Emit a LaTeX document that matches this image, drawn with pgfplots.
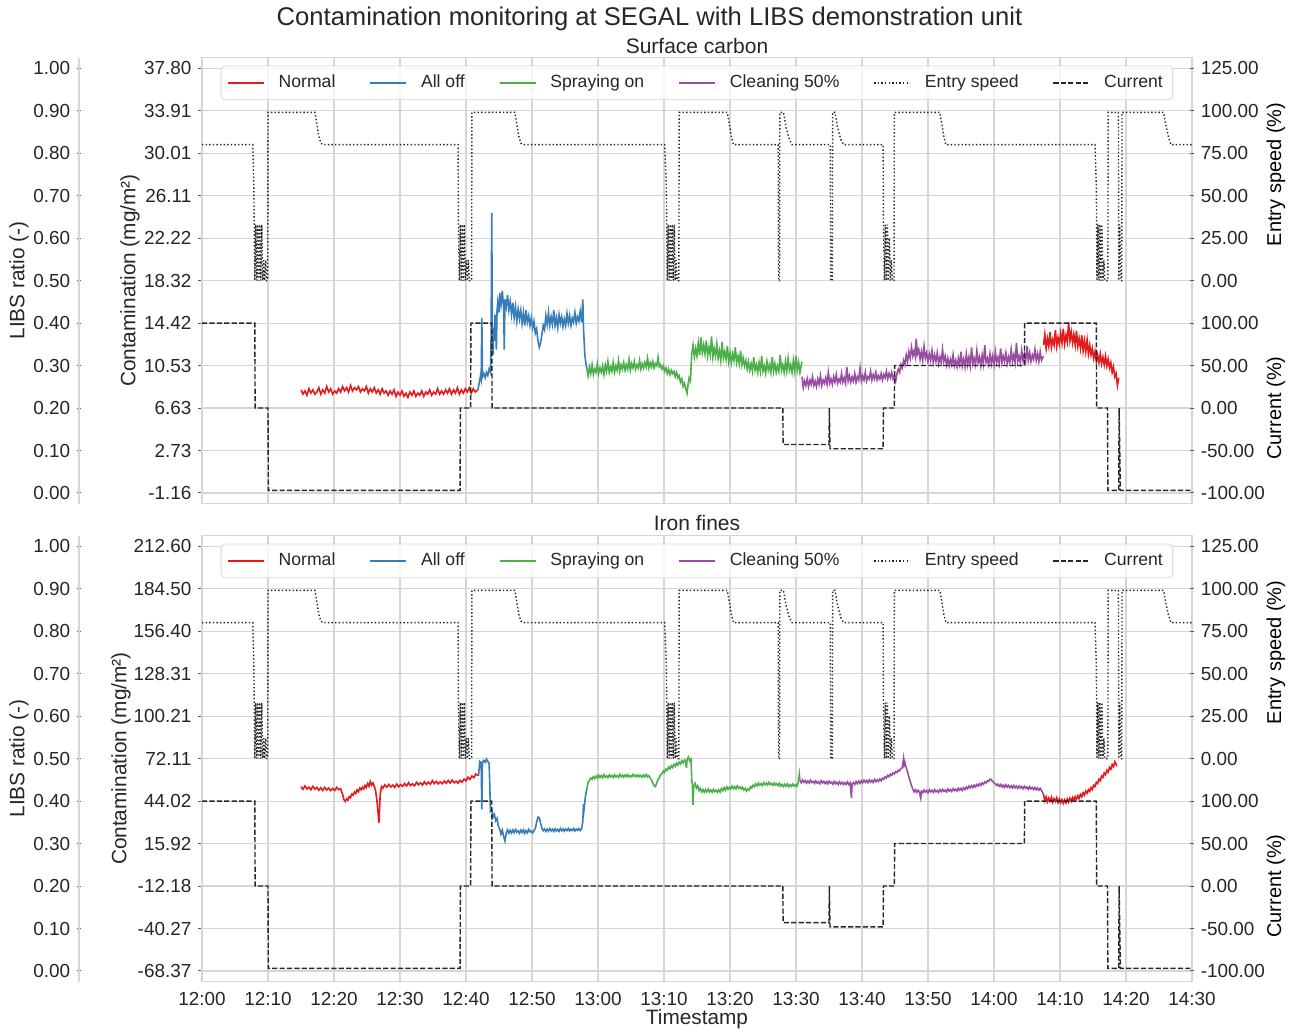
\documentclass[border=0pt]{standalone}
\usepackage{fontspec}
\setmainfont{Liberation Sans}
\usepackage{pgfplots}
\usepackage{pgfplotstable}
\pgfplotsset{compat=1.18}

\definecolor{cnormal}{HTML}{E41A1C}
\definecolor{calloff}{HTML}{377EB8}
\definecolor{cspray}{HTML}{4DAF4A}
\definecolor{cclean}{HTML}{984EA3}
\definecolor{gridc}{HTML}{D6D6D6}
\definecolor{txt}{HTML}{262626}

% entry speed (%) and current (%) against minutes after 12:00
\pgfplotstableread{
t s
0 80
7.7 80
7.85 56
8.0 0
8.15 33
8.3 0
8.45 33
8.6 0
8.75 33
8.9 0
9.05 33
9.2 0
9.35 12
9.5 0
9.65 12
9.8 0
9.95 0
10.0 99
17.1 99
17.4 92
17.7 85
18.0 81
18.3 80
38.8 80
38.85 33
39.0 0
39.15 33
39.3 0
39.45 33
39.6 0
39.75 33
39.9 0
40.05 12
40.2 0
40.35 12
40.5 0
40.85 0
40.9 99
47.4 99
47.7 92
48.0 85
48.3 81
48.6 80
70.1 80
70.35 56
70.5 0
70.65 33
70.8 0
70.95 33
71.1 0
71.25 33
71.4 0
71.55 33
71.7 0
71.85 12
72.0 0
72.25 0
72.3 99
79.6 99
79.9 92
80.2 85
80.5 80
87.3 80
87.35 0
87.5 0
87.55 99
88.1 99
88.5 90
89.0 83
89.4 80
95.2 80
95.25 0
95.5 0
95.55 99
95.9 99
96.3 90
96.8 83
97.2 80
103.2 80
103.25 33
103.4 0
103.55 33
103.7 0
103.85 33
104.0 0
104.15 25
104.3 0
104.45 12
104.6 0
104.85 0
104.9 99
111.8 99
112.1 92
112.4 85
112.7 80
135.3 80
135.5 56
135.6 0
135.75 33
135.9 0
136.05 33
136.2 0
136.35 33
136.5 0
136.65 12
136.8 0
137.25 0
137.3 99
138.85 99
138.9 0
139.05 33
139.2 0
139.35 0
139.4 99
145.7 99
146.0 92
146.4 85
146.8 80
150 80
}\speed

\pgfplotstableread{
t c
0 100
8.0 100
8.05 0
10.0 0
10.05 -97
39.1 -97
39.15 0
40.7 0
40.75 100
43.9 100
43.95 0
88.0 0
88.05 -43
95.0 -43
95.05 0
95.15 -48
103.2 -48
103.25 0
104.9 0
104.95 50
124.6 50
124.65 100
135.5 100
135.55 0
137.2 0
137.25 -97
138.9 -97
138.95 0
139.15 -97
150 -97
}\current

\pgfplotsset{
  panel/.style={scale only axis, width=495pt, height=223pt, xmin=0, xmax=150,
    anchor=south west, tick align=outside, major tick length=1.8pt,
    tick style={draw=txt!75, line width=0.5pt},
    ticklabel style={font=\fontsize{9.45}{11}\selectfont, text=txt},
    label style={font=\fontsize{10.4}{12}\selectfont, text=txt}},
  main/.style={panel, xtick={0,10,...,150}, xtick style={draw=none},
    ytick pos=left, grid=major, grid style={gridc, line width=0.55pt},
    axis line style={gridc, line width=0.6pt},
    legend style={at={(0.5,0.982)}, anchor=north, legend columns=6,
      draw=gridc, rounded corners=2pt, fill=white, fill opacity=0.8,
      text opacity=1, text=txt, font=\fontsize{8.8}{10}\selectfont,
      inner xsep=3pt, inner ysep=2.5pt,
      /tikz/every odd column/.append style={column sep=5pt},
      /tikz/every even column/.append style={column sep=15pt}},
    legend image code/.code={\draw[#1] (0pt,0pt) -- (18pt,0pt);}},
  twin/.style={panel, hide x axis, axis y line=right,
    y axis line style={draw=none}},
  speedax/.style={twin, ymin=-131.25, ymax=131.25, ytick={0,25,...,125},
    yticklabels={0.00,25.00,50.00,75.00,100.00,125.00},
    ylabel={Entry speed (\%)},
    ylabel style={at={(axis description cs:1.0848,0.738)}, anchor=center}},
  currax/.style={twin, ymin=-112.5, ymax=412.5, ytick={-100,-50,...,100},
    yticklabels={-100.00,-50.00,0.00,50.00,100.00},
    ylabel={Current (\%)},
    ylabel style={at={(axis description cs:1.0848,0.214)}, anchor=center}},
  libsax/.style={panel, width=1pt, hide x axis, axis y line=left,
    y axis line style={draw=gridc, line width=0.6pt, -},
    ymin=-0.025, ymax=1.025, ytick={0,0.1,...,1.0},
    yticklabels={0.00,0.10,0.20,0.30,0.40,0.50,0.60,0.70,0.80,0.90,1.00},
    ylabel={LIBS ratio (-)},
    ylabel style={at={(axis description cs:-30,0.5)}, anchor=center}},
  trace/.style={line width=0.8pt},
  speedline/.style={black!85, line width=0.7pt, dash pattern=on 0.7pt off 1.1pt},
  currline/.style={black!85, line width=0.7pt, dash pattern=on 2.6pt off 1.1pt},
}

\begin{document}
\begin{tikzpicture}
\path (0,0) rectangle (647.5pt,514pt);
\node[font=\fontsize{12.8}{15}\selectfont, text=txt] at (324.75pt,505pt)
  {Contamination monitoring at SEGAL with LIBS demonstration unit};
\node[font=\fontsize{10.5}{12}\selectfont, text=txt] at (348.5pt,491.5pt) {Surface carbon};
\node[font=\fontsize{10.5}{12}\selectfont, text=txt] at (348.5pt,253pt) {Iron fines};

% ---------------- top panel: surface carbon ----------------
\begin{axis}[libsax, at={(39.5pt,262.5pt)}]
\end{axis}

\begin{axis}[main, at={(101pt,262.5pt)}, xticklabels={},
  ymin=-2.134, ymax=38.774,
  ytick={-1.16,2.736,6.632,10.528,14.424,18.32,22.216,26.112,30.008,33.904,37.80},
  yticklabels={-1.16,2.73,6.63,10.53,14.42,18.32,22.22,26.11,30.01,33.91,37.80},
  ylabel={Contamination (mg/m²)},
  ylabel style={at={(axis description cs:-0.0727,0.5)}, anchor=center}]
\addplot[trace, cnormal] coordinates {
(15.0,8.3)(15.3,7.9)(15.6,8.2)(15.9,7.8)(16.2,8.4)(16.5,8.0)(16.8,8.3)(17.1,7.9)(17.4,8.1)(17.7,8.5)
(18.0,7.9)(18.3,8.3)(18.6,8.0)(18.9,8.6)(19.2,8.1)(19.5,8.4)(19.8,7.9)(20.1,8.2)(20.4,8.0)(20.7,8.4)
(21.0,8.1)(21.3,8.6)(21.6,8.2)(21.9,8.5)(22.2,8.1)(22.5,8.7)(22.8,8.2)(23.1,8.5)(23.4,8.3)(23.7,8.6)
(24.0,8.1)(24.3,8.4)(24.6,8.2)(24.9,8.6)(25.2,8.0)(25.5,8.4)(25.8,8.1)(26.1,8.5)(26.4,8.0)(26.7,8.3)
(27.0,7.9)(27.3,8.4)(27.6,8.0)(27.9,8.2)(28.2,7.8)(28.5,8.2)(28.8,7.9)(29.1,8.3)(29.4,7.7)(29.7,8.1)
(30.0,7.8)(30.3,8.2)(30.6,7.7)(30.9,8.0)(31.2,7.6)(31.5,8.1)(31.8,7.8)(32.1,8.2)(32.4,7.7)(32.7,8.0)
(33.0,7.8)(33.3,8.2)(33.6,7.7)(33.9,8.1)(34.2,7.9)(34.5,8.3)(34.8,7.8)(35.1,8.1)(35.4,7.9)(35.7,8.4)
(36.0,7.9)(36.3,8.2)(36.6,7.9)(36.9,8.3)(37.2,8.0)(37.5,8.4)(37.8,7.9)(38.1,8.3)(38.4,8.0)(38.7,8.5)
(39.0,7.9)(39.3,8.3)(39.6,8.0)(39.9,8.4)(40.2,8.1)(40.5,8.5)(40.8,8.0)(41.1,8.4)(41.4,8.1)(41.8,8.3)
};
\addlegendentry{Normal}
\addplot[trace, calloff] coordinates {
(41.8,8.3)(42.0,8.9)(42.2,9.6)(42.3,9.3)(42.4,14.9)(42.5,9.5)(42.7,9.8)(42.9,9.4)(43.1,9.9)(43.3,9.6)
(43.5,10.2)(43.7,9.9)(43.8,13.0)(43.9,24.5)(44.0,12.5)(44.1,11.5)(44.2,14.0)(44.3,12.8)(44.4,15.2)(44.5,13.6)
(44.6,12.0)(44.7,15.5)(44.8,16.3)(45.0,15.4)(45.1,17.2)(45.3,16.1)(45.5,17.4)(45.7,15.8)(45.8,12.0)(45.9,16.6)
(46.1,15.9)(46.3,17.0)(46.5,15.6)(46.7,16.4)(46.9,15.2)(47.1,16.3)(47.3,14.9)(47.5,15.9)(47.7,14.6)(47.9,15.7)
(48.1,14.8)(48.3,15.6)(48.5,14.4)(48.7,15.4)(48.9,14.2)(49.1,15.6)(49.3,14.5)(49.5,15.1)(49.7,14.2)(49.9,14.9)
(50.1,14.0)(50.3,14.6)(50.5,13.5)(50.7,13.9)(50.9,12.8)(51.1,12.2)(51.3,12.6)(51.5,13.4)(51.7,14.2)(51.9,13.8)
(52.1,15.1)(52.3,14.3)(52.5,15.4)(52.7,14.2)(52.9,15.0)(53.1,14.3)(53.3,15.6)(53.5,14.2)(53.7,14.9)(53.9,14.0)
(54.1,15.2)(54.3,14.4)(54.5,15.0)(54.7,14.1)(54.9,14.8)(55.1,14.2)(55.3,15.3)(55.5,14.4)(55.7,15.1)(55.9,14.2)
(56.1,14.9)(56.3,14.5)(56.5,15.4)(56.7,14.4)(56.9,15.0)(57.1,14.6)(57.3,15.5)(57.5,14.5)(57.7,16.6)(57.8,14.0)
(58.0,11.5)(58.2,10.6)(58.3,10.3)
};
\addlegendentry{All off}
\addplot[trace, cspray] coordinates {
(58.3,10.3)(58.5,9.6)(58.7,10.4)(58.9,9.8)(59.1,10.6)(59.3,9.7)(59.5,10.2)(59.7,9.9)(59.9,10.7)(60.1,9.8)
(60.3,10.3)(60.5,9.9)(60.7,10.5)(60.9,9.7)(61.1,10.6)(61.3,10.0)(61.5,10.9)(61.7,9.9)(61.9,10.4)(62.1,10.0)
(62.3,10.8)(62.5,9.9)(62.7,10.5)(62.9,10.1)(63.1,11.0)(63.3,10.0)(63.5,10.6)(63.7,10.2)(63.9,10.8)(64.1,10.1)
(64.3,10.6)(64.5,10.2)(64.7,11.1)(64.9,10.1)(65.1,10.7)(65.3,10.3)(65.5,10.9)(65.7,10.2)(65.9,10.6)(66.1,10.3)
(66.3,11.0)(66.5,10.2)(66.7,10.7)(66.9,10.3)(67.1,10.8)(67.3,10.4)(67.5,11.2)(67.7,10.3)(67.9,10.8)(68.1,10.4)
(68.3,10.9)(68.5,10.3)(68.7,10.7)(68.9,10.5)(69.1,11.3)(69.3,10.4)(69.5,10.6)(69.7,10.2)(69.9,10.5)(70.1,10.0)
(70.3,10.3)(70.5,9.8)(70.7,10.2)(70.9,9.7)(71.1,10.1)(71.3,9.8)(71.5,10.0)(71.7,9.5)(71.9,9.9)(72.1,9.4)
(72.3,9.6)(72.5,9.0)(72.7,9.3)(72.9,8.6)(73.1,8.9)(73.3,8.4)(73.5,8.0)(73.6,8.6)(73.8,9.4)(74.0,9.1)
(74.2,11.6)(74.4,12.4)(74.6,11.3)(74.8,12.1)(75.0,11.4)(75.2,12.6)(75.4,11.5)(75.6,13.1)(75.8,11.7)(76.0,12.4)
(76.2,11.6)(76.4,12.8)(76.6,11.4)(76.8,12.2)(77.0,11.5)(77.2,13.2)(77.4,11.3)(77.6,12.1)(77.8,11.4)(78.0,12.5)
(78.2,11.2)(78.4,11.9)(78.6,11.0)(78.8,12.7)(79.0,11.2)(79.2,11.8)(79.4,11.1)(79.6,12.3)(79.8,10.9)(80.0,11.7)
(80.2,10.8)(80.4,11.6)(80.6,11.0)(80.8,12.2)(81.0,10.8)(81.2,11.4)(81.4,10.7)(81.6,11.9)(81.8,10.6)(82.0,11.2)
(82.2,10.5)(82.4,11.0)(82.6,10.2)(82.8,10.9)(83.0,10.1)(83.2,10.7)(83.4,10.0)(83.6,11.3)(83.8,10.1)(84.0,10.6)
(84.2,9.9)(84.4,10.8)(84.6,10.0)(84.8,11.4)(85.0,10.0)(85.2,10.5)(85.4,9.8)(85.6,10.9)(85.8,10.1)(86.0,10.6)
(86.2,9.9)(86.4,11.3)(86.6,10.0)(86.8,10.7)(87.0,9.9)(87.2,10.5)(87.4,10.0)(87.6,11.5)(87.8,10.1)(88.0,10.6)
(88.2,9.9)(88.4,10.9)(88.6,10.0)(88.8,11.2)(89.0,10.1)(89.2,10.6)(89.4,9.9)(89.6,11.0)(89.8,10.0)(90.0,11.4)
(90.2,10.1)(90.4,10.8)(90.6,9.9)(90.9,10.9)
};
\addlegendentry{Spraying on}
\addplot[trace, cclean] coordinates {
(90.9,9.5)(91.1,8.5)(91.3,9.1)(91.5,8.7)(91.7,9.3)(91.9,8.6)(92.1,9.2)(92.3,8.8)(92.5,9.5)(92.7,8.7)
(92.9,9.1)(93.1,8.6)(93.3,9.3)(93.5,8.8)(93.7,9.6)(93.9,8.7)(94.1,9.2)(94.3,8.9)(94.5,9.4)(94.7,8.8)
(94.9,9.9)(95.1,8.9)(95.3,9.3)(95.5,8.8)(95.7,9.5)(95.9,9.0)(96.1,9.7)(96.3,8.9)(96.5,9.3)(96.7,9.0)
(96.9,9.8)(97.1,9.0)(97.3,9.4)(97.5,8.9)(97.7,10.4)(97.9,9.1)(98.1,9.6)(98.3,9.0)(98.5,9.5)(98.7,9.1)
(98.9,9.8)(99.1,9.0)(99.3,9.5)(99.5,9.2)(99.7,10.3)(99.9,9.1)(100.1,9.6)(100.3,9.2)(100.5,9.9)(100.7,9.1)
(100.9,9.5)(101.1,9.3)(101.3,10.0)(101.5,9.2)(101.7,9.7)(101.9,9.3)(102.1,9.9)(102.3,9.2)(102.5,9.6)(102.7,9.3)
(102.9,9.8)(103.1,9.2)(103.3,9.7)(103.5,9.4)(103.7,10.0)(103.9,9.3)(104.1,9.8)(104.3,9.4)(104.5,9.9)(104.7,9.3)
(104.9,9.6)(105.1,9.1)(105.3,9.8)(105.5,10.2)(105.7,9.9)(105.9,10.6)(106.1,10.3)(106.3,11.0)(106.5,10.6)(106.7,11.5)
(106.9,10.9)(107.1,11.8)(107.3,11.2)(107.5,12.2)(107.7,11.4)(107.9,11.9)(108.1,11.3)(108.2,13.0)(108.4,11.6)(108.6,12.0)
(108.8,11.1)(109.0,11.8)(109.2,11.0)(109.4,12.3)(109.6,11.2)(109.8,11.7)(110.0,10.9)(110.2,11.6)(110.4,11.0)(110.6,11.9)
(110.8,10.8)(111.0,11.5)(111.2,10.9)(111.4,11.7)(111.6,10.7)(111.8,11.3)(112.0,10.8)(112.2,12.0)(112.4,10.9)(112.6,11.4)
(112.8,10.6)(113.0,11.2)(113.2,10.5)(113.4,11.1)(113.6,10.6)(113.8,11.5)(114.0,10.5)(114.2,11.0)(114.4,10.4)(114.6,11.2)
(114.8,10.6)(115.0,11.8)(115.2,10.5)(115.4,11.1)(115.6,10.4)(115.8,11.6)(116.0,10.6)(116.2,11.3)(116.4,10.5)(116.6,12.2)
(116.8,10.7)(117.0,11.2)(117.2,10.6)(117.4,11.9)(117.6,10.8)(117.8,11.3)(118.0,10.5)(118.2,11.5)(118.4,10.7)(118.6,12.4)
(118.8,10.8)(119.0,11.2)(119.2,10.6)(119.4,11.6)(119.6,10.7)(119.8,11.4)(120.0,10.6)(120.2,11.8)(120.4,10.8)(120.6,11.3)
(120.8,10.7)(121.0,12.1)(121.2,10.8)(121.4,11.4)(121.6,10.9)(121.8,11.7)(122.0,10.7)(122.2,11.3)(122.4,10.8)(122.6,12.0)
(122.8,10.9)(123.0,11.5)(123.2,10.8)(123.4,12.6)(123.6,10.9)(123.8,11.4)(124.0,10.8)(124.2,11.9)(124.4,11.0)(124.6,11.6)
(124.8,10.9)(125.0,12.3)(125.2,11.0)(125.4,11.7)(125.6,10.9)(125.8,11.5)(126.0,11.1)(126.2,12.0)(126.4,11.0)(126.6,11.6)
(126.8,10.9)(127.0,11.8)(127.2,11.0)(127.5,11.4)
};
\addlegendentry{Cleaning 50\%}
\addlegendimage{speedline}
\addlegendentry{Entry speed}
\addlegendimage{currline}
\addlegendentry{Current}
\addplot[trace, cnormal, forget plot] coordinates {
(127.5,12.4)(127.7,13.4)(127.9,12.1)(128.1,13.0)(128.3,12.3)(128.5,13.6)(128.7,12.2)(128.9,12.9)(129.1,12.4)(129.3,13.8)
(129.5,12.3)(129.7,13.1)(129.9,12.5)(130.1,13.5)(130.3,12.6)(130.5,13.9)(130.7,12.5)(130.9,13.3)(131.1,12.7)(131.3,14.5)
(131.5,12.8)(131.7,13.6)(131.9,12.6)(132.1,13.4)(132.3,12.4)(132.5,13.7)(132.7,12.3)(132.9,13.0)(133.1,12.1)(133.3,13.3)
(133.5,11.9)(133.7,12.8)(133.9,11.8)(134.1,12.9)(134.3,11.6)(134.5,12.4)(134.7,11.5)(134.9,12.1)(135.1,11.2)(135.3,11.8)
(135.5,10.9)(135.7,11.5)(135.9,10.8)(136.1,11.6)(136.3,10.7)(136.5,11.3)(136.7,10.6)(136.9,11.4)(137.1,10.5)(137.3,11.1)
(137.5,10.3)(137.7,10.8)(137.9,9.9)(138.1,10.4)(138.3,9.5)(138.5,9.8)(138.7,8.7)(138.9,9.4)
};
\end{axis}

\begin{axis}[speedax, at={(101pt,262.5pt)}]
\addplot[speedline] table[x=t, y=s] {\speed};
\end{axis}
\begin{axis}[currax, at={(101pt,262.5pt)}]
\addplot[currline] table[x=t, y=c] {\current};
\end{axis}

% ---------------- bottom panel: iron fines ----------------
\begin{axis}[libsax, at={(39.5pt,23.5pt)}]
\end{axis}

\begin{axis}[main, at={(101pt,23.5pt)},
  xticklabels={12:00,12:10,12:20,12:30,12:40,12:50,13:00,13:10,13:20,13:30,13:40,13:50,14:00,14:10,14:20,14:30},
  xlabel={Timestamp}, xlabel style={at={(axis description cs:0.5,-0.085)}, anchor=center},
  ymin=-75.394, ymax=219.624,
  ytick={-68.37,-40.273,-12.176,15.921,44.018,72.115,100.212,128.309,156.406,184.503,212.60},
  yticklabels={-68.37,-40.27,-12.18,15.92,44.02,72.11,100.21,128.31,156.40,184.50,212.60},
  ylabel={Contamination (mg/m²)},
  ylabel style={at={(axis description cs:-0.0818,0.5)}, anchor=center}]
\addplot[trace, cnormal] coordinates {
(15.0,53.5)(15.3,51.8)(15.6,54.0)(15.9,52.0)(16.2,53.2)(16.5,51.5)(16.8,53.8)(17.1,51.9)(17.4,53.0)(17.7,51.2)
(18.0,52.8)(18.3,51.0)(18.6,53.1)(18.9,51.4)(19.2,52.6)(19.5,50.9)(19.8,52.4)(20.1,51.0)(20.4,53.0)(20.7,51.6)
(21.0,52.2)(21.3,48.5)(21.5,45.0)(21.7,43.8)(21.9,45.5)(22.1,44.6)(22.3,47.0)(22.5,46.2)(22.7,48.6)(22.9,47.9)
(23.1,50.1)(23.3,49.0)(23.5,51.4)(23.7,50.2)(23.9,52.6)(24.1,51.5)(24.3,53.2)(24.5,52.0)(24.7,54.4)(24.9,53.1)
(25.1,55.6)(25.3,53.8)(25.5,56.9)(25.7,54.6)(25.9,56.0)(26.1,53.8)(26.3,51.0)(26.5,44.5)(26.7,35.0)(26.8,29.5)
(26.9,38.0)(27.0,48.5)(27.2,53.6)(27.4,52.5)(27.7,54.8)(28.0,53.2)(28.3,55.0)(28.6,53.4)(28.9,54.6)(29.2,53.0)
(29.5,55.3)(29.8,53.5)(30.1,54.9)(30.4,53.7)(30.7,55.6)(31.0,54.0)(31.3,56.2)(31.6,54.3)(31.9,55.5)(32.2,54.1)
(32.5,56.4)(32.8,54.8)(33.1,56.0)(33.4,54.6)(33.7,56.8)(34.0,55.0)(34.3,56.5)(34.6,55.2)(34.9,57.5)(35.2,55.6)
(35.5,57.0)(35.8,55.4)(36.1,56.8)(36.4,55.5)(36.7,57.3)(37.0,55.8)(37.3,57.6)(37.6,56.0)(37.9,57.9)(38.2,56.1)
(38.5,57.2)(38.8,55.9)(39.1,57.8)(39.4,56.5)(39.7,58.6)(40.0,57.4)(40.3,59.8)(40.6,58.3)(40.9,60.6)(41.2,59.5)
(41.5,61.9)(41.9,60.8)
};
\addlegendentry{Normal}
\addplot[trace, calloff] coordinates {
(41.9,60.8)(42.0,66.0)(42.1,70.2)(42.3,69.4)(42.4,38.5)(42.5,69.8)(42.7,70.9)(42.9,69.6)(43.1,71.8)(43.3,70.2)
(43.5,69.0)(43.6,55.0)(43.7,37.4)(43.9,38.8)(44.1,33.5)(44.3,35.2)(44.5,31.0)(44.7,32.6)(44.9,27.4)(45.1,25.5)
(45.3,22.0)(45.5,24.8)(45.7,20.6)(45.9,17.6)(46.1,23.0)(46.3,25.0)(46.5,22.8)(46.7,24.6)(46.9,22.9)(47.1,24.9)
(47.3,23.1)(47.5,25.2)(47.7,23.4)(47.9,24.4)(48.1,22.7)(48.3,24.8)(48.5,23.2)(48.7,25.0)(48.9,22.6)(49.1,24.5)
(49.3,23.0)(49.5,25.3)(49.7,23.6)(49.9,24.2)(50.1,23.0)(50.3,24.6)(50.5,25.8)(50.7,30.0)(50.9,33.4)(51.1,33.0)
(51.3,29.5)(51.5,26.0)(51.7,24.4)(51.9,25.6)(52.1,24.0)(52.3,25.5)(52.5,24.1)(52.7,25.8)(52.9,24.3)(53.1,25.4)
(53.3,23.9)(53.5,25.7)(53.7,24.2)(53.9,25.3)(54.1,24.0)(54.3,25.9)(54.5,24.4)(54.7,25.6)(54.9,24.1)(55.1,25.5)
(55.3,24.5)(55.5,26.0)(55.7,24.3)(55.9,25.4)(56.1,24.6)(56.3,25.9)(56.5,24.2)(56.7,25.5)(56.9,24.7)(57.1,25.8)
(57.3,24.5)(57.5,25.6)(57.7,30.5)(57.8,42.0)(57.9,39.0)(58.1,47.5)(58.3,52.0)
};
\addlegendentry{All off}
\addplot[trace, cspray] coordinates {
(58.3,52.0)(58.5,56.5)(58.7,57.8)(58.9,59.2)(59.1,58.4)(59.3,60.1)(59.5,59.0)(59.7,60.6)(59.9,59.3)(60.1,61.2)
(60.3,59.6)(60.5,60.9)(60.7,59.4)(60.9,61.5)(61.1,59.8)(61.3,60.7)(61.5,59.5)(61.7,61.3)(61.9,60.0)(62.1,61.0)
(62.3,59.6)(62.5,61.4)(62.7,59.9)(62.9,60.8)(63.1,59.7)(63.3,61.6)(63.5,60.1)(63.7,61.1)(63.9,59.8)(64.1,61.3)
(64.3,60.2)(64.5,61.5)(64.7,59.9)(64.9,60.8)(65.1,60.0)(65.3,61.7)(65.5,60.3)(65.7,61.2)(65.9,60.0)(66.1,61.4)
(66.3,60.2)(66.5,61.0)(66.7,59.8)(66.9,61.3)(67.1,60.1)(67.3,61.6)(67.5,60.0)(67.7,60.8)(67.9,59.4)(68.1,58.0)
(68.3,55.9)(68.5,54.2)(68.7,53.6)(68.9,56.0)(69.1,58.4)(69.3,59.5)(69.5,61.6)(69.7,62.3)(69.9,63.9)(70.1,63.0)
(70.3,65.2)(70.5,64.4)(70.7,66.5)(70.9,65.3)(71.1,67.4)(71.3,66.2)(71.5,68.3)(71.7,67.0)(71.9,69.1)(72.1,67.8)
(72.3,69.8)(72.5,68.6)(72.7,70.7)(72.9,69.4)(73.1,71.3)(73.3,70.0)(73.4,66.0)(73.5,71.8)(73.7,73.2)(73.9,70.5)
(74.1,71.6)(74.2,58.0)(74.3,55.0)(74.4,41.5)(74.5,53.5)(74.7,55.8)(74.9,52.6)(75.1,54.2)(75.3,51.0)(75.5,52.4)
(75.7,50.1)(75.9,51.6)(76.1,49.8)(76.3,51.5)(76.5,50.0)(76.7,52.0)(76.9,50.2)(77.1,51.3)(77.3,49.9)(77.5,51.8)
(77.7,50.3)(77.9,51.2)(78.1,49.7)(78.3,51.4)(78.5,50.0)(78.7,52.3)(78.9,50.8)(79.1,52.9)(79.3,51.2)(79.5,53.4)
(79.7,51.8)(79.9,53.1)(80.1,52.0)(80.3,53.9)(80.5,52.3)(80.7,53.6)(80.9,52.1)(81.1,54.0)(81.3,52.5)(81.5,53.4)
(81.7,52.0)(81.9,53.2)(82.1,51.3)(82.3,52.4)(82.5,50.6)(82.7,52.0)(82.9,51.2)(83.1,53.5)(83.3,52.7)(83.5,54.6)
(83.7,53.5)(83.9,55.4)(84.1,54.1)(84.3,55.9)(84.5,54.5)(84.7,55.6)(84.9,54.3)(85.1,56.2)(85.3,54.8)(85.5,55.9)
(85.7,54.6)(85.9,56.4)(86.1,54.9)(86.3,55.7)(86.5,54.4)(86.7,56.0)(86.9,54.7)(87.1,55.5)(87.3,54.2)(87.5,55.8)
(87.7,53.9)(87.9,55.0)(88.1,53.6)(88.3,55.2)(88.5,53.8)(88.7,55.4)(88.9,53.5)(89.1,54.9)(89.3,53.7)(89.5,55.3)
(89.7,53.9)(89.9,54.8)(90.1,53.6)(90.3,55.6)(90.5,62.0)(90.6,57.5)
};
\addlegendentry{Spraying on}
\addplot[trace, cclean] coordinates {
(90.6,57.5)(90.8,56.2)(91.0,58.0)(91.2,56.5)(91.4,57.6)(91.6,55.9)(91.8,57.3)(92.0,56.0)(92.2,57.8)(92.4,56.3)
(92.6,57.0)(92.8,55.7)(93.0,57.4)(93.2,55.9)(93.4,56.8)(93.6,55.5)(93.8,57.5)(94.0,56.0)(94.2,57.1)(94.4,55.6)
(94.6,56.9)(94.8,55.4)(95.0,57.2)(95.2,55.8)(95.4,56.6)(95.6,55.2)(95.8,57.0)(96.0,55.5)(96.2,56.5)(96.4,55.0)
(96.6,56.8)(96.8,55.3)(97.0,56.4)(97.2,54.9)(97.4,56.2)(97.6,55.1)(97.8,56.7)(98.0,55.0)(98.2,56.1)(98.4,46.2)
(98.5,55.4)(98.7,56.3)(98.9,55.0)(99.1,56.9)(99.3,55.5)(99.5,57.2)(99.7,55.8)(99.9,57.5)(100.1,56.1)(100.3,57.9)
(100.5,56.4)(100.7,57.6)(100.9,56.2)(101.1,58.0)(101.3,56.6)(101.5,57.7)(101.7,56.3)(101.9,58.3)(102.1,56.9)(102.3,58.1)
(102.5,57.0)(102.7,58.6)(102.9,57.5)(103.1,59.2)(103.3,58.4)(103.5,60.1)(103.7,59.3)(103.9,61.0)(104.1,60.2)(104.3,61.8)
(104.5,61.0)(104.7,62.7)(104.9,62.0)(105.1,63.5)(105.3,62.9)(105.5,64.4)(105.7,64.0)(105.9,65.6)(106.1,66.0)(106.3,72.3)
(106.4,68.0)(106.5,69.5)(106.7,66.0)(106.9,63.5)(107.1,60.0)(107.3,57.0)(107.5,54.2)(107.7,52.0)(107.9,50.1)(108.1,51.5)
(108.3,49.8)(108.5,51.2)(108.7,50.0)(108.9,46.0)(109.0,50.5)(109.2,49.6)(109.4,51.3)(109.6,49.9)(109.8,51.0)(110.0,49.5)
(110.2,51.4)(110.4,50.1)(110.6,51.2)(110.8,49.8)(111.0,51.6)(111.2,50.2)(111.4,51.0)(111.6,49.7)(111.8,51.5)(112.0,50.3)
(112.2,51.8)(112.4,50.5)(112.6,51.3)(112.8,50.0)(113.0,52.0)(113.2,50.6)(113.4,51.6)(113.6,50.4)(113.8,52.2)(114.0,50.9)
(114.2,51.8)(114.4,50.7)(114.6,52.5)(114.8,51.2)(115.0,52.4)(115.2,51.0)(115.4,52.8)(115.6,51.6)(115.8,53.3)(116.0,52.2)
(116.2,53.9)(116.4,52.8)(116.6,54.2)(116.8,53.0)(117.0,54.6)(117.2,53.4)(117.4,55.0)(117.6,54.0)(117.8,55.5)(118.0,54.4)
(118.2,56.0)(118.4,55.1)(118.6,56.7)(118.8,56.0)(119.0,57.5)(119.2,57.0)(119.4,58.6)(119.6,58.0)(119.8,57.0)(120.0,56.0)
(120.2,55.6)(120.4,54.3)(120.6,55.2)(120.8,53.8)(121.0,55.0)(121.2,53.4)(121.4,54.6)(121.6,53.1)(121.8,54.8)(122.0,53.2)
(122.2,54.4)(122.4,52.9)(122.6,54.1)(122.8,52.7)(123.0,54.3)(123.2,52.8)(123.4,53.9)(123.6,52.5)(123.8,54.0)(124.0,52.6)
(124.2,53.6)(124.4,52.2)(124.6,53.8)(124.8,52.4)(125.0,53.3)(125.2,51.8)(125.4,53.5)(125.6,52.1)(125.8,53.0)(126.0,51.6)
(126.2,52.9)(126.4,51.5)(126.6,52.7)(126.8,51.2)(127.0,52.4)(127.2,51.0)(127.5,48.5)
};
\addlegendentry{Cleaning 50\%}
\addlegendimage{speedline}
\addlegendentry{Entry speed}
\addlegendimage{currline}
\addlegendentry{Current}
\addplot[trace, cnormal, forget plot] coordinates {
(127.5,48.5)(127.7,44.2)(127.9,46.8)(128.1,43.5)(128.3,46.0)(128.5,44.0)(128.7,46.5)(128.9,43.2)(129.1,45.6)(129.3,43.8)
(129.5,46.2)(129.7,42.9)(129.9,45.3)(130.1,43.0)(130.3,45.0)(130.5,42.5)(130.7,44.8)(130.9,42.8)(131.1,45.4)(131.3,43.3)
(131.5,45.9)(131.7,43.9)(131.9,46.4)(132.1,44.5)(132.3,46.9)(132.5,45.0)(132.7,47.6)(132.9,45.8)(133.1,48.4)(133.3,46.9)
(133.5,49.5)(133.7,48.0)(133.9,50.6)(134.1,49.3)(134.3,51.6)(134.5,50.4)(134.7,52.9)(134.9,51.7)(135.1,54.5)(135.3,53.6)
(135.5,56.4)(135.7,55.6)(135.9,58.5)(136.1,57.5)(136.3,60.6)(136.5,59.7)(136.7,62.6)(136.9,61.4)(137.1,64.4)(137.3,63.2)
(137.5,66.3)(137.7,65.0)(137.9,68.2)(138.1,66.8)(138.3,70.0)(138.5,68.4)(138.6,67.0)
};
\end{axis}

\begin{axis}[speedax, at={(101pt,23.5pt)}]
\addplot[speedline] table[x=t, y=s] {\speed};
\end{axis}
\begin{axis}[currax, at={(101pt,23.5pt)}]
\addplot[currline] table[x=t, y=c] {\current};
\end{axis}
\end{tikzpicture}
\end{document}
